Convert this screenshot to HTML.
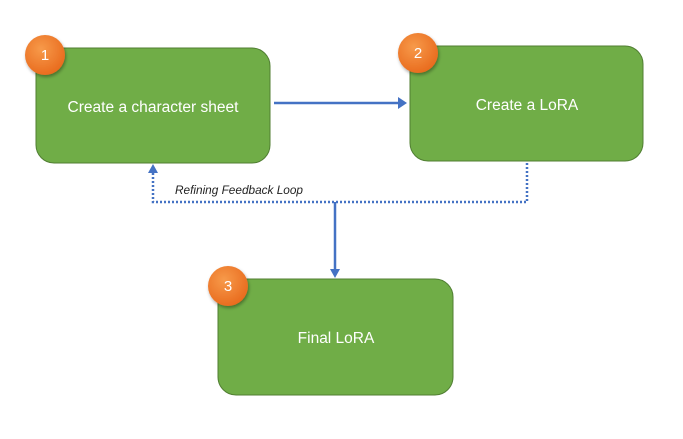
<!DOCTYPE html>
<html><head><style>
body{margin:0;background:#fff;width:683px;height:434px;overflow:hidden;font-family:"Liberation Sans",sans-serif}
</style></head><body>
<svg width="683" height="434" viewBox="0 0 683 434">
<defs>
<radialGradient id="g" cx="0.4" cy="0.35" r="0.7"><stop offset="0" stop-color="#f79a4a"/><stop offset="1" stop-color="#e8691c"/></radialGradient>
<filter id="s" x="-50%" y="-50%" width="200%" height="200%"><feDropShadow dx="1" dy="2" stdDeviation="1.5" flood-opacity="0.35"/></filter>
</defs>
<g fill="#70ad47" stroke="#507e32" stroke-width="1">
<rect x="36" y="48" width="234" height="115" rx="18"/>
<rect x="410" y="46" width="233" height="115" rx="18"/>
<rect x="218" y="279" width="235" height="116" rx="18"/>
</g>
<g fill="#fff" font-size="15.5" text-anchor="middle">
<text x="153" y="112" textLength="171" lengthAdjust="spacingAndGlyphs">Create a character sheet</text>
<text x="527" y="110">Create a LoRA</text>
<text x="336" y="343">Final LoRA</text>
</g>
<path d="M274 103H400" stroke="#4472c4" stroke-width="2.5"/>
<path d="M398 97L407 103L398 109Z" fill="#4472c4"/>
<path d="M527 163V202H153V172" stroke="#4472c4" stroke-width="2.5" fill="none" stroke-dasharray="2 2"/>
<path d="M148 173L153 164L158 173Z" fill="#4472c4"/>
<path d="M335 202V270" stroke="#4472c4" stroke-width="2.5"/>
<path d="M330 269L335 278L340 269Z" fill="#4472c4"/>
<text x="175" y="194" font-size="11.5" font-style="italic" fill="#222" textLength="128" lengthAdjust="spacingAndGlyphs">Refining Feedback Loop</text>
<g filter="url(#s)" fill="url(#g)">
<circle cx="45" cy="55" r="20"/><circle cx="418" cy="53" r="20"/><circle cx="228" cy="286" r="20"/>
</g>
<g fill="#fff" font-size="15" text-anchor="middle">
<text x="45" y="60">1</text><text x="418" y="58">2</text><text x="228" y="291">3</text>
</g>
</svg>
</body></html>
